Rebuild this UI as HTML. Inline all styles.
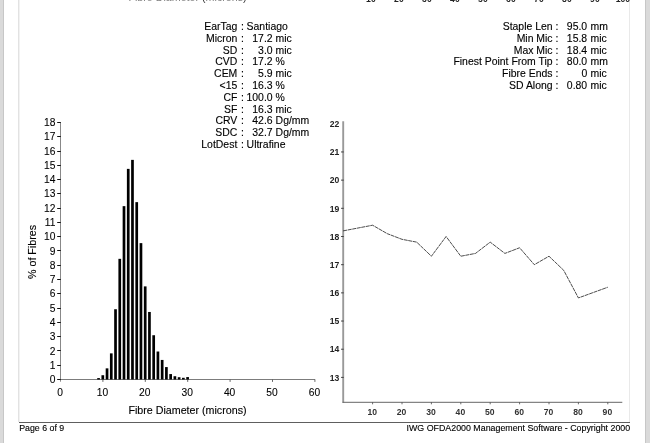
<!DOCTYPE html>
<html><head><meta charset="utf-8"><title>OFDA2000 Report</title>
<style>
html,body{margin:0;padding:0;background:#fff;}
body{width:650px;height:443px;overflow:hidden;position:relative;}
#pg{position:absolute;left:0;top:0;width:650px;height:443px;overflow:hidden;background:#fff;}
.gl{position:absolute;top:0;height:443px;background:#dadada;}
.vl{position:absolute;top:0;width:1.4px;height:422px;background:#e8e8e8;}
.hr{position:absolute;left:18.5px;width:611.8px;top:421.6px;height:1.1px;background:#5e5e5e;}
svg{position:absolute;left:0;top:0;}
svg text{font-family:"Liberation Sans",Arial,Helvetica,sans-serif;fill:#000;stroke:#000;stroke-width:0.12px;white-space:pre;}
</style></head><body>
<div id="pg">
<div class="gl" style="left:0;width:3px"></div>
<div class="gl" style="left:3px;width:1px;background:#c7c7c7"></div>
<div class="gl" style="left:645px;width:1px;background:#c7c7c7"></div>
<div class="gl" style="left:646px;width:4px"></div>
<div class="vl" style="left:18px;width:1px;background:#e2e2e2"></div>
<div class="vl" style="left:19px;width:1px;background:#f2f2f2"></div>
<div class="vl" style="left:629px;width:1px;background:#e9e9e9"></div>
<div class="hr"></div>
<svg width="650" height="443" viewBox="0 0 650 443">
<g>
<line x1="60.5" y1="122.06" x2="60.5" y2="381.70" stroke="#888" stroke-width="1"/>
<line x1="60.1" y1="379.5" x2="315.10" y2="379.5" stroke="#7c7c7c" stroke-width="1"/>
<line x1="102.90" y1="379.5" x2="102.90" y2="381.90" stroke="#555" stroke-width="0.9"/>
<line x1="145.30" y1="379.5" x2="145.30" y2="381.90" stroke="#555" stroke-width="0.9"/>
<line x1="187.70" y1="379.5" x2="187.70" y2="381.90" stroke="#555" stroke-width="0.9"/>
<line x1="230.10" y1="379.5" x2="230.10" y2="381.90" stroke="#555" stroke-width="0.9"/>
<line x1="272.50" y1="379.5" x2="272.50" y2="381.90" stroke="#555" stroke-width="0.9"/>
<line x1="314.90" y1="379.5" x2="314.90" y2="381.90" stroke="#555" stroke-width="0.9"/>
<line x1="57.2" y1="379.50" x2="60.8" y2="379.50" stroke="#111" stroke-width="1"/>
<line x1="57.2" y1="365.50" x2="60.8" y2="365.50" stroke="#111" stroke-width="1"/>
<line x1="57.2" y1="350.50" x2="60.8" y2="350.50" stroke="#111" stroke-width="1"/>
<line x1="57.2" y1="336.50" x2="60.8" y2="336.50" stroke="#111" stroke-width="1"/>
<line x1="57.2" y1="322.50" x2="60.8" y2="322.50" stroke="#111" stroke-width="1"/>
<line x1="57.2" y1="308.50" x2="60.8" y2="308.50" stroke="#111" stroke-width="1"/>
<line x1="57.2" y1="293.50" x2="60.8" y2="293.50" stroke="#111" stroke-width="1"/>
<line x1="57.2" y1="279.50" x2="60.8" y2="279.50" stroke="#111" stroke-width="1"/>
<line x1="57.2" y1="265.50" x2="60.8" y2="265.50" stroke="#111" stroke-width="1"/>
<line x1="57.2" y1="250.50" x2="60.8" y2="250.50" stroke="#111" stroke-width="1"/>
<line x1="57.2" y1="236.50" x2="60.8" y2="236.50" stroke="#111" stroke-width="1"/>
<line x1="57.2" y1="222.50" x2="60.8" y2="222.50" stroke="#111" stroke-width="1"/>
<line x1="57.2" y1="208.50" x2="60.8" y2="208.50" stroke="#111" stroke-width="1"/>
<line x1="57.2" y1="193.50" x2="60.8" y2="193.50" stroke="#111" stroke-width="1"/>
<line x1="57.2" y1="179.50" x2="60.8" y2="179.50" stroke="#111" stroke-width="1"/>
<line x1="57.2" y1="165.50" x2="60.8" y2="165.50" stroke="#111" stroke-width="1"/>
<line x1="57.2" y1="151.50" x2="60.8" y2="151.50" stroke="#111" stroke-width="1"/>
<line x1="57.2" y1="136.50" x2="60.8" y2="136.50" stroke="#111" stroke-width="1"/>
<line x1="57.2" y1="122.50" x2="60.8" y2="122.50" stroke="#111" stroke-width="1"/>
<rect x="97.21" y="378.07" width="2.7" height="1.43" fill="#000"/>
<rect x="101.45" y="375.22" width="2.7" height="4.28" fill="#000"/>
<rect x="105.69" y="368.36" width="2.7" height="11.14" fill="#000"/>
<rect x="109.93" y="353.37" width="2.7" height="26.13" fill="#000"/>
<rect x="114.17" y="309.24" width="2.7" height="70.26" fill="#000"/>
<rect x="118.41" y="258.83" width="2.7" height="120.67" fill="#000"/>
<rect x="122.65" y="206.14" width="2.7" height="173.36" fill="#000"/>
<rect x="126.89" y="168.87" width="2.7" height="210.63" fill="#000"/>
<rect x="131.13" y="159.87" width="2.7" height="219.63" fill="#000"/>
<rect x="135.37" y="202.14" width="2.7" height="177.36" fill="#000"/>
<rect x="139.61" y="243.13" width="2.7" height="136.37" fill="#000"/>
<rect x="143.85" y="286.39" width="2.7" height="93.11" fill="#000"/>
<rect x="148.09" y="311.96" width="2.7" height="67.54" fill="#000"/>
<rect x="152.33" y="335.23" width="2.7" height="44.27" fill="#000"/>
<rect x="156.57" y="351.51" width="2.7" height="27.99" fill="#000"/>
<rect x="160.81" y="359.94" width="2.7" height="19.56" fill="#000"/>
<rect x="165.05" y="367.08" width="2.7" height="12.42" fill="#000"/>
<rect x="169.29" y="374.07" width="2.7" height="5.43" fill="#000"/>
<rect x="173.53" y="376.22" width="2.7" height="3.28" fill="#000"/>
<rect x="177.77" y="377.22" width="2.7" height="2.28" fill="#000"/>
<rect x="182.01" y="377.79" width="2.7" height="1.71" fill="#000"/>
<rect x="186.25" y="377.07" width="2.7" height="2.43" fill="#000"/>
<line x1="343.2" y1="121.2" x2="343.2" y2="402.8" stroke="#999" stroke-width="1.9"/>
<line x1="342.5" y1="402.3" x2="622.3" y2="402.3" stroke="#666" stroke-width="1"/>
<line x1="341.0" y1="377.40" x2="343.7" y2="377.40" stroke="#222" stroke-width="0.8"/>
<line x1="341.0" y1="349.22" x2="343.7" y2="349.22" stroke="#222" stroke-width="0.8"/>
<line x1="341.0" y1="321.04" x2="343.7" y2="321.04" stroke="#222" stroke-width="0.8"/>
<line x1="341.0" y1="292.86" x2="343.7" y2="292.86" stroke="#222" stroke-width="0.8"/>
<line x1="341.0" y1="264.68" x2="343.7" y2="264.68" stroke="#222" stroke-width="0.8"/>
<line x1="341.0" y1="236.50" x2="343.7" y2="236.50" stroke="#222" stroke-width="0.8"/>
<line x1="341.0" y1="208.32" x2="343.7" y2="208.32" stroke="#222" stroke-width="0.8"/>
<line x1="341.0" y1="180.14" x2="343.7" y2="180.14" stroke="#222" stroke-width="0.8"/>
<line x1="341.0" y1="151.96" x2="343.7" y2="151.96" stroke="#222" stroke-width="0.8"/>
<line x1="372.60" y1="402.3" x2="372.60" y2="404.3" stroke="#444" stroke-width="0.8"/>
<line x1="402.00" y1="402.3" x2="402.00" y2="404.3" stroke="#444" stroke-width="0.8"/>
<line x1="431.40" y1="402.3" x2="431.40" y2="404.3" stroke="#444" stroke-width="0.8"/>
<line x1="460.80" y1="402.3" x2="460.80" y2="404.3" stroke="#444" stroke-width="0.8"/>
<line x1="490.20" y1="402.3" x2="490.20" y2="404.3" stroke="#444" stroke-width="0.8"/>
<line x1="519.60" y1="402.3" x2="519.60" y2="404.3" stroke="#444" stroke-width="0.8"/>
<line x1="549.00" y1="402.3" x2="549.00" y2="404.3" stroke="#444" stroke-width="0.8"/>
<line x1="578.40" y1="402.3" x2="578.40" y2="404.3" stroke="#444" stroke-width="0.8"/>
<line x1="607.80" y1="402.3" x2="607.80" y2="404.3" stroke="#444" stroke-width="0.8"/>
<polyline points="343.20,230.86 372.60,225.23 387.30,233.68 402.00,239.32 416.70,242.14 431.40,256.23 446.10,236.50 460.80,256.23 475.50,253.41 490.20,242.14 504.90,253.41 519.60,247.77 534.30,264.68 549.00,256.23 563.70,270.32 578.40,297.93 607.80,287.22" fill="none" stroke="#000" stroke-width="0.7" stroke-dasharray="4 0.6"/>
</g>
<g>
<text x="237.30" y="30" font-size="10.44" text-anchor="end">EarTag</text>
<text x="241.00" y="30" font-size="10.44" text-anchor="start">:</text>
<text x="246.60" y="30" font-size="10.44" text-anchor="start">Santiago</text>
<text x="237.30" y="42" font-size="10.44" text-anchor="end">Micron</text>
<text x="241.00" y="42" font-size="10.44" text-anchor="start">:</text>
<text x="272.60" y="42" font-size="10.44" text-anchor="end">17.2</text>
<text x="275.60" y="42" font-size="10.44" text-anchor="start">mic</text>
<text x="237.30" y="54" font-size="10.44" text-anchor="end">SD</text>
<text x="241.00" y="54" font-size="10.44" text-anchor="start">:</text>
<text x="272.60" y="54" font-size="10.44" text-anchor="end">3.0</text>
<text x="275.60" y="54" font-size="10.44" text-anchor="start">mic</text>
<text x="237.30" y="65" font-size="10.44" text-anchor="end">CVD</text>
<text x="241.00" y="65" font-size="10.44" text-anchor="start">:</text>
<text x="272.60" y="65" font-size="10.44" text-anchor="end">17.2</text>
<text x="275.60" y="65" font-size="10.44" text-anchor="start">%</text>
<text x="237.30" y="77" font-size="10.44" text-anchor="end">CEM</text>
<text x="241.00" y="77" font-size="10.44" text-anchor="start">:</text>
<text x="272.60" y="77" font-size="10.44" text-anchor="end">5.9</text>
<text x="275.60" y="77" font-size="10.44" text-anchor="start">mic</text>
<text x="237.30" y="89" font-size="10.44" text-anchor="end">&lt;15</text>
<text x="241.00" y="89" font-size="10.44" text-anchor="start">:</text>
<text x="272.60" y="89" font-size="10.44" text-anchor="end">16.3</text>
<text x="275.60" y="89" font-size="10.44" text-anchor="start">%</text>
<text x="237.30" y="101" font-size="10.44" text-anchor="end">CF</text>
<text x="241.00" y="101" font-size="10.44" text-anchor="start">:</text>
<text x="272.60" y="101" font-size="10.44" text-anchor="end">100.0</text>
<text x="275.60" y="101" font-size="10.44" text-anchor="start">%</text>
<text x="237.30" y="113" font-size="10.44" text-anchor="end">SF</text>
<text x="241.00" y="113" font-size="10.44" text-anchor="start">:</text>
<text x="272.60" y="113" font-size="10.44" text-anchor="end">16.3</text>
<text x="275.60" y="113" font-size="10.44" text-anchor="start">mic</text>
<text x="237.30" y="124" font-size="10.44" text-anchor="end">CRV</text>
<text x="241.00" y="124" font-size="10.44" text-anchor="start">:</text>
<text x="272.60" y="124" font-size="10.44" text-anchor="end">42.6</text>
<text x="275.60" y="124" font-size="10.44" text-anchor="start">Dg/mm</text>
<text x="237.30" y="136" font-size="10.44" text-anchor="end">SDC</text>
<text x="241.00" y="136" font-size="10.44" text-anchor="start">:</text>
<text x="272.60" y="136" font-size="10.44" text-anchor="end">32.7</text>
<text x="275.60" y="136" font-size="10.44" text-anchor="start">Dg/mm</text>
<text x="237.30" y="148" font-size="10.44" text-anchor="end">LotDest</text>
<text x="241.00" y="148" font-size="10.44" text-anchor="start">:</text>
<text x="246.60" y="148" font-size="10.44" text-anchor="start">Ultrafine</text>
<text x="552.60" y="30" font-size="10.44" text-anchor="end">Staple Len</text>
<text x="555.60" y="30" font-size="10.44" text-anchor="start">:</text>
<text x="587.20" y="30" font-size="10.44" text-anchor="end">95.0</text>
<text x="590.60" y="30" font-size="10.44" text-anchor="start">mm</text>
<text x="552.60" y="42" font-size="10.44" text-anchor="end">Min Mic</text>
<text x="555.60" y="42" font-size="10.44" text-anchor="start">:</text>
<text x="587.20" y="42" font-size="10.44" text-anchor="end">15.8</text>
<text x="590.60" y="42" font-size="10.44" text-anchor="start">mic</text>
<text x="552.60" y="54" font-size="10.44" text-anchor="end">Max Mic</text>
<text x="555.60" y="54" font-size="10.44" text-anchor="start">:</text>
<text x="587.20" y="54" font-size="10.44" text-anchor="end">18.4</text>
<text x="590.60" y="54" font-size="10.44" text-anchor="start">mic</text>
<text x="552.60" y="65" font-size="10.44" text-anchor="end">Finest Point From Tip</text>
<text x="555.60" y="65" font-size="10.44" text-anchor="start">:</text>
<text x="587.20" y="65" font-size="10.44" text-anchor="end">80.0</text>
<text x="590.60" y="65" font-size="10.44" text-anchor="start">mm</text>
<text x="552.60" y="77" font-size="10.44" text-anchor="end">Fibre Ends</text>
<text x="555.60" y="77" font-size="10.44" text-anchor="start">:</text>
<text x="587.20" y="77" font-size="10.44" text-anchor="end">0</text>
<text x="590.60" y="77" font-size="10.44" text-anchor="start">mic</text>
<text x="552.60" y="89" font-size="10.44" text-anchor="end">SD Along</text>
<text x="555.60" y="89" font-size="10.44" text-anchor="start">:</text>
<text x="587.20" y="89" font-size="10.44" text-anchor="end">0.80</text>
<text x="590.60" y="89" font-size="10.44" text-anchor="start">mic</text>
<text x="128.4" y="1" font-size="10.7" style="fill:#808080;stroke:none">Fibre Diameter <tspan style="fill:#333">(</tspan>microns<tspan style="fill:#333">)</tspan></text>
<text x="370.90" y="2" font-size="8.6" text-anchor="middle" style="font-weight:bold;fill:#222;stroke:none">10</text>
<text x="398.90" y="2" font-size="8.6" text-anchor="middle" style="font-weight:bold;fill:#222;stroke:none">20</text>
<text x="426.90" y="2" font-size="8.6" text-anchor="middle" style="font-weight:bold;fill:#222;stroke:none">30</text>
<text x="454.90" y="2" font-size="8.6" text-anchor="middle" style="font-weight:bold;fill:#222;stroke:none">40</text>
<text x="482.90" y="2" font-size="8.6" text-anchor="middle" style="font-weight:bold;fill:#222;stroke:none">50</text>
<text x="510.90" y="2" font-size="8.6" text-anchor="middle" style="font-weight:bold;fill:#222;stroke:none">60</text>
<text x="538.90" y="2" font-size="8.6" text-anchor="middle" style="font-weight:bold;fill:#222;stroke:none">70</text>
<text x="566.90" y="2" font-size="8.6" text-anchor="middle" style="font-weight:bold;fill:#222;stroke:none">80</text>
<text x="594.90" y="2" font-size="8.6" text-anchor="middle" style="font-weight:bold;fill:#222;stroke:none">90</text>
<text x="622.90" y="2" font-size="8.6" text-anchor="middle" style="font-weight:bold;fill:#222;stroke:none">100</text>
<text x="19.20" y="431" font-size="8.8" text-anchor="start">Page 6 of 9</text>
<text x="630.20" y="431" font-size="8.86" text-anchor="end">IWG OFDA2000 Management Software - Copyright 2000</text>
<text transform="translate(55.40,383) scale(0.87,1)" font-size="11.8" text-anchor="end" style="stroke-width:0.1px">0</text>
<text transform="translate(55.40,369) scale(0.87,1)" font-size="11.8" text-anchor="end" style="stroke-width:0.1px">1</text>
<text transform="translate(55.40,355) scale(0.87,1)" font-size="11.8" text-anchor="end" style="stroke-width:0.1px">2</text>
<text transform="translate(55.40,340) scale(0.87,1)" font-size="11.8" text-anchor="end" style="stroke-width:0.1px">3</text>
<text transform="translate(55.40,326) scale(0.87,1)" font-size="11.8" text-anchor="end" style="stroke-width:0.1px">4</text>
<text transform="translate(55.40,312) scale(0.87,1)" font-size="11.8" text-anchor="end" style="stroke-width:0.1px">5</text>
<text transform="translate(55.40,297) scale(0.87,1)" font-size="11.8" text-anchor="end" style="stroke-width:0.1px">6</text>
<text transform="translate(55.40,283) scale(0.87,1)" font-size="11.8" text-anchor="end" style="stroke-width:0.1px">7</text>
<text transform="translate(55.40,269) scale(0.87,1)" font-size="11.8" text-anchor="end" style="stroke-width:0.1px">8</text>
<text transform="translate(55.40,255) scale(0.87,1)" font-size="11.8" text-anchor="end" style="stroke-width:0.1px">9</text>
<text transform="translate(55.40,240) scale(0.87,1)" font-size="11.8" text-anchor="end" style="stroke-width:0.1px">10</text>
<text transform="translate(55.40,226) scale(0.87,1)" font-size="11.8" text-anchor="end" style="stroke-width:0.1px">11</text>
<text transform="translate(55.40,212) scale(0.87,1)" font-size="11.8" text-anchor="end" style="stroke-width:0.1px">12</text>
<text transform="translate(55.40,197) scale(0.87,1)" font-size="11.8" text-anchor="end" style="stroke-width:0.1px">13</text>
<text transform="translate(55.40,183) scale(0.87,1)" font-size="11.8" text-anchor="end" style="stroke-width:0.1px">14</text>
<text transform="translate(55.40,169) scale(0.87,1)" font-size="11.8" text-anchor="end" style="stroke-width:0.1px">15</text>
<text transform="translate(55.40,155) scale(0.87,1)" font-size="11.8" text-anchor="end" style="stroke-width:0.1px">16</text>
<text transform="translate(55.40,140) scale(0.87,1)" font-size="11.8" text-anchor="end" style="stroke-width:0.1px">17</text>
<text transform="translate(55.40,126) scale(0.87,1)" font-size="11.8" text-anchor="end" style="stroke-width:0.1px">18</text>
<text transform="translate(60.00,396) scale(0.87,1)" font-size="11.8" text-anchor="middle" style="stroke-width:0.1px">0</text>
<text transform="translate(102.40,396) scale(0.87,1)" font-size="11.8" text-anchor="middle" style="stroke-width:0.1px">10</text>
<text transform="translate(144.80,396) scale(0.87,1)" font-size="11.8" text-anchor="middle" style="stroke-width:0.1px">20</text>
<text transform="translate(187.20,396) scale(0.87,1)" font-size="11.8" text-anchor="middle" style="stroke-width:0.1px">30</text>
<text transform="translate(229.60,396) scale(0.87,1)" font-size="11.8" text-anchor="middle" style="stroke-width:0.1px">40</text>
<text transform="translate(272.00,396) scale(0.87,1)" font-size="11.8" text-anchor="middle" style="stroke-width:0.1px">50</text>
<text transform="translate(314.40,396) scale(0.87,1)" font-size="11.8" text-anchor="middle" style="stroke-width:0.1px">60</text>
<text x="128.40" y="414" font-size="10.7" text-anchor="start">Fibre Diameter (microns)</text>
<text transform="translate(35.5,252) rotate(-90)" font-size="10.7" text-anchor="middle">% of Fibres</text>
<text x="339.40" y="381" font-size="8.6" text-anchor="end" style="font-weight:bold;fill:#222;stroke:none">13</text>
<text x="339.40" y="352" font-size="8.6" text-anchor="end" style="font-weight:bold;fill:#222;stroke:none">14</text>
<text x="339.40" y="324" font-size="8.6" text-anchor="end" style="font-weight:bold;fill:#222;stroke:none">15</text>
<text x="339.40" y="296" font-size="8.6" text-anchor="end" style="font-weight:bold;fill:#222;stroke:none">16</text>
<text x="339.40" y="268" font-size="8.6" text-anchor="end" style="font-weight:bold;fill:#222;stroke:none">17</text>
<text x="339.40" y="240" font-size="8.6" text-anchor="end" style="font-weight:bold;fill:#222;stroke:none">18</text>
<text x="339.40" y="212" font-size="8.6" text-anchor="end" style="font-weight:bold;fill:#222;stroke:none">19</text>
<text x="339.40" y="183" font-size="8.6" text-anchor="end" style="font-weight:bold;fill:#222;stroke:none">20</text>
<text x="339.40" y="155" font-size="8.6" text-anchor="end" style="font-weight:bold;fill:#222;stroke:none">21</text>
<text x="339.40" y="127" font-size="8.6" text-anchor="end" style="font-weight:bold;fill:#222;stroke:none">22</text>
<text x="372.20" y="415" font-size="8.6" text-anchor="middle" style="font-weight:bold;fill:#333;stroke:none">10</text>
<text x="401.60" y="415" font-size="8.6" text-anchor="middle" style="font-weight:bold;fill:#333;stroke:none">20</text>
<text x="431.00" y="415" font-size="8.6" text-anchor="middle" style="font-weight:bold;fill:#333;stroke:none">30</text>
<text x="460.40" y="415" font-size="8.6" text-anchor="middle" style="font-weight:bold;fill:#333;stroke:none">40</text>
<text x="489.80" y="415" font-size="8.6" text-anchor="middle" style="font-weight:bold;fill:#333;stroke:none">50</text>
<text x="519.20" y="415" font-size="8.6" text-anchor="middle" style="font-weight:bold;fill:#333;stroke:none">60</text>
<text x="548.60" y="415" font-size="8.6" text-anchor="middle" style="font-weight:bold;fill:#333;stroke:none">70</text>
<text x="578.00" y="415" font-size="8.6" text-anchor="middle" style="font-weight:bold;fill:#333;stroke:none">80</text>
<text x="607.40" y="415" font-size="8.6" text-anchor="middle" style="font-weight:bold;fill:#333;stroke:none">90</text>
</g>
</svg>
</div>
</body></html>
